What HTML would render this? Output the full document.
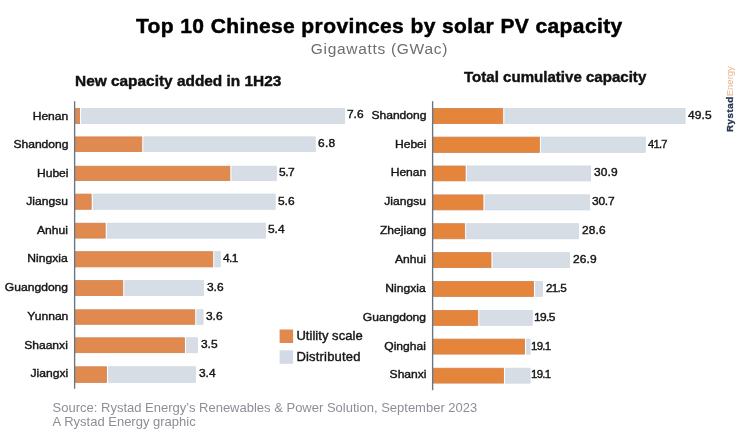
<!DOCTYPE html>
<html lang="en">
<head>
<meta charset="utf-8">
<title>Top 10 Chinese provinces by solar PV capacity</title>
<style>
html,body{margin:0;padding:0;background:#fff}
body{width:740px;height:439px;position:relative;overflow:hidden;font-family:"Liberation Sans",sans-serif}
svg{position:absolute;left:0;top:0}
.t{position:absolute;white-space:nowrap;margin:0}
.c{left:0;width:740px;text-align:center}
h1.t{top:12.72px;font-size:21px;line-height:25px;font-weight:700;color:#000;letter-spacing:.4px;text-indent:18.6px;-webkit-text-stroke:.5px #000}
.sub{top:38.53px;font-size:15.5px;line-height:19px;color:#6e6e70;letter-spacing:.7px;text-indent:18.8px}
h2.t{font-size:14.2px;line-height:17px;font-weight:700;color:#111;-webkit-text-stroke:.4px #111;transform-origin:left center}
.lab,.val,.leg{color:#151515;-webkit-text-stroke:.4px #151515}
.lab,.val{font-size:11.3px;line-height:14px}
.lab{transform:scaleX(1.07);transform-origin:right center}
.val{transform:scaleX(1.06);transform-origin:left center}
.leg{left:296.4px;font-size:13px;line-height:16px}
.src{left:52.6px;font-size:13px;line-height:16px;color:#8c8f97}
.wm{left:724.3px;top:131.7px;font-size:10px;line-height:12px;transform-origin:0 0;transform:rotate(-90deg)}
.wm b{color:#27364f;font-weight:700;font-size:9.7px;letter-spacing:.58px;-webkit-text-stroke:.3px #27364f}
.wm span{color:#e9b58e;font-size:9.6px;letter-spacing:-.08px}
</style>
</head>
<body>
<svg width="740" height="439" viewBox="0 0 740 439" aria-hidden="true">
<rect x="81.60" y="108.30" width="263.00" height="15.40" fill="#d6dde5" stroke="#cdd5df" stroke-width="0.6"/>
<rect x="75.40" y="108.40" width="4.20" height="15.20" fill="#e08a50" stroke="#cf8250" stroke-width="0.8"/>
<rect x="143.80" y="136.80" width="171.50" height="14.90" fill="#d6dde5" stroke="#cdd5df" stroke-width="0.6"/>
<rect x="75.40" y="136.90" width="66.40" height="14.70" fill="#e08a50" stroke="#cf8250" stroke-width="0.8"/>
<rect x="231.90" y="166.10" width="44.50" height="14.60" fill="#d6dde5" stroke="#cdd5df" stroke-width="0.6"/>
<rect x="75.40" y="166.20" width="154.50" height="14.40" fill="#e08a50" stroke="#cf8250" stroke-width="0.8"/>
<rect x="93.20" y="194.00" width="182.00" height="15.40" fill="#d6dde5" stroke="#cdd5df" stroke-width="0.6"/>
<rect x="75.40" y="194.10" width="15.80" height="15.20" fill="#e08a50" stroke="#cf8250" stroke-width="0.8"/>
<rect x="107.20" y="223.10" width="158.30" height="15.10" fill="#d6dde5" stroke="#cdd5df" stroke-width="0.6"/>
<rect x="75.40" y="223.20" width="29.80" height="14.90" fill="#e08a50" stroke="#cf8250" stroke-width="0.8"/>
<rect x="214.80" y="251.60" width="5.50" height="15.40" fill="#d6dde5" stroke="#cdd5df" stroke-width="0.6"/>
<rect x="75.40" y="251.70" width="137.40" height="15.20" fill="#e08a50" stroke="#cf8250" stroke-width="0.8"/>
<rect x="124.80" y="280.50" width="78.70" height="15.20" fill="#d6dde5" stroke="#cdd5df" stroke-width="0.6"/>
<rect x="75.40" y="280.60" width="47.40" height="15.00" fill="#e08a50" stroke="#cf8250" stroke-width="0.8"/>
<rect x="196.80" y="309.70" width="6.30" height="14.70" fill="#d6dde5" stroke="#cdd5df" stroke-width="0.6"/>
<rect x="75.40" y="309.80" width="119.40" height="14.50" fill="#e08a50" stroke="#cf8250" stroke-width="0.8"/>
<rect x="186.40" y="337.70" width="11.20" height="15.10" fill="#d6dde5" stroke="#cdd5df" stroke-width="0.6"/>
<rect x="75.40" y="337.80" width="109.00" height="14.90" fill="#e08a50" stroke="#cf8250" stroke-width="0.8"/>
<rect x="108.50" y="366.70" width="87.10" height="15.80" fill="#d6dde5" stroke="#cdd5df" stroke-width="0.6"/>
<rect x="75.40" y="366.80" width="31.10" height="15.60" fill="#e08a50" stroke="#cf8250" stroke-width="0.8"/>
<rect x="73.95" y="101.2" width="1.35" height="287.50" fill="#6b7481"/>
<rect x="504.80" y="108.30" width="180.30" height="15.40" fill="#d6dde5" stroke="#cdd5df" stroke-width="0.6"/>
<rect x="433.40" y="108.40" width="69.40" height="15.20" fill="#e5853c" stroke="#cf8250" stroke-width="0.8"/>
<rect x="541.40" y="137.00" width="104.00" height="15.50" fill="#d6dde5" stroke="#cdd5df" stroke-width="0.6"/>
<rect x="433.40" y="137.10" width="106.00" height="15.30" fill="#e5853c" stroke="#cf8250" stroke-width="0.8"/>
<rect x="467.20" y="165.90" width="123.50" height="15.10" fill="#d6dde5" stroke="#cdd5df" stroke-width="0.6"/>
<rect x="433.40" y="166.00" width="31.80" height="14.90" fill="#e5853c" stroke="#cf8250" stroke-width="0.8"/>
<rect x="485.00" y="194.80" width="104.70" height="15.20" fill="#d6dde5" stroke="#cdd5df" stroke-width="0.6"/>
<rect x="433.40" y="194.90" width="49.60" height="15.00" fill="#e5853c" stroke="#cf8250" stroke-width="0.8"/>
<rect x="466.70" y="223.60" width="111.90" height="15.30" fill="#d6dde5" stroke="#cdd5df" stroke-width="0.6"/>
<rect x="433.40" y="223.70" width="31.30" height="15.10" fill="#e5853c" stroke="#cf8250" stroke-width="0.8"/>
<rect x="493.00" y="252.50" width="76.60" height="15.20" fill="#d6dde5" stroke="#cdd5df" stroke-width="0.6"/>
<rect x="433.40" y="252.60" width="57.60" height="15.00" fill="#e5853c" stroke="#cf8250" stroke-width="0.8"/>
<rect x="535.60" y="281.30" width="7.00" height="15.20" fill="#d6dde5" stroke="#cdd5df" stroke-width="0.6"/>
<rect x="433.40" y="281.40" width="100.20" height="15.00" fill="#e5853c" stroke="#cf8250" stroke-width="0.8"/>
<rect x="479.80" y="310.30" width="52.50" height="15.20" fill="#d6dde5" stroke="#cdd5df" stroke-width="0.6"/>
<rect x="433.40" y="310.40" width="44.40" height="15.00" fill="#e5853c" stroke="#cf8250" stroke-width="0.8"/>
<rect x="526.60" y="339.00" width="3.50" height="15.20" fill="#d6dde5" stroke="#cdd5df" stroke-width="0.6"/>
<rect x="433.40" y="339.10" width="91.20" height="15.00" fill="#e5853c" stroke="#cf8250" stroke-width="0.8"/>
<rect x="505.60" y="368.10" width="24.50" height="15.10" fill="#d6dde5" stroke="#cdd5df" stroke-width="0.6"/>
<rect x="433.40" y="368.20" width="70.20" height="14.90" fill="#e5853c" stroke="#cf8250" stroke-width="0.8"/>
<rect x="431.95" y="101.2" width="1.35" height="289.00" fill="#6b7481"/>
<rect x="279.6" y="329.5" width="13.5" height="13.5" fill="#e08a50"/>
<rect x="279.6" y="350.3" width="13.5" height="13.5" fill="#d2dae5"/>
</svg>
<h1 class="t c" id="title">Top 10 Chinese provinces by solar PV capacity</h1>
<div class="t c sub" id="sub">Gigawatts (GWac)</div>
<h2 class="t" id="pt1" style="left:75.4px;top:73.18px;transform:scaleX(1.086)">New capacity added in 1H23</h2>
<h2 class="t" id="pt2" style="left:463.8px;top:68.98px;transform:scaleX(1.062)">Total cumulative capacity</h2>
<div class="t lab" id="Ll0" style="top:108.78px;right:671.60px">Henan</div>
<div class="t val" id="Lv0" style="top:107.48px;left:346.80px;letter-spacing:-0.05px">7.6</div>
<div class="t lab" id="Ll1" style="top:137.03px;right:671.80px">Shandong</div>
<div class="t val" id="Lv1" style="top:136.48px;left:318.00px;letter-spacing:0.3px">6.8</div>
<div class="t lab" id="Ll2" style="top:165.63px;right:671.90px">Hubei</div>
<div class="t val" id="Lv2" style="top:165.03px;left:279.00px;letter-spacing:-0.48px">5.7</div>
<div class="t lab" id="Ll3" style="top:193.78px;right:672.50px">Jiangsu</div>
<div class="t val" id="Lv3" style="top:193.78px;left:278.40px;letter-spacing:-0.05px">5.6</div>
<div class="t lab" id="Ll4" style="top:222.58px;right:672.20px">Anhui</div>
<div class="t val" id="Lv4" style="top:221.98px;left:267.70px;letter-spacing:-0.05px">5.4</div>
<div class="t lab" id="Ll5" style="top:251.38px;right:672.00px">Ningxia</div>
<div class="t val" id="Lv5" style="top:251.08px;left:223.10px;letter-spacing:-0.57px">4.1</div>
<div class="t lab" id="Ll6" style="top:280.08px;right:672.20px">Guangdong</div>
<div class="t val" id="Lv6" style="top:279.88px;left:206.70px;letter-spacing:-0.05px">3.6</div>
<div class="t lab" id="Ll7" style="top:308.58px;right:671.40px">Yunnan</div>
<div class="t val" id="Lv7" style="top:308.78px;left:206.20px;letter-spacing:-0.05px">3.6</div>
<div class="t lab" id="Ll8" style="top:338.03px;right:672.20px">Shaanxi</div>
<div class="t val" id="Lv8" style="top:337.43px;left:200.80px;letter-spacing:-0.05px">3.5</div>
<div class="t lab" id="Ll9" style="top:366.18px;right:671.50px">Jiangxi</div>
<div class="t val" id="Lv9" style="top:366.18px;left:198.80px;letter-spacing:-0.05px">3.4</div>
<div class="t lab" id="Rl0" style="top:108.48px;right:313.00px">Shandong</div>
<div class="t val" id="Rv0" style="top:107.98px;left:688.10px;letter-spacing:0.1px">49.5</div>
<div class="t lab" id="Rl1" style="top:137.38px;right:313.00px">Hebei</div>
<div class="t val" id="Rv1" style="top:136.78px;left:648.40px;letter-spacing:-0.7px;transform:scaleX(0.98)">41.7</div>
<div class="t lab" id="Rl2" style="top:165.38px;right:314.00px">Henan</div>
<div class="t val" id="Rv2" style="top:165.48px;left:593.80px;letter-spacing:0.1px">30.9</div>
<div class="t lab" id="Rl3" style="top:194.18px;right:314.00px">Jiangsu</div>
<div class="t val" id="Rv3" style="top:194.18px;left:592.40px;letter-spacing:-0.23px">30.7</div>
<div class="t lab" id="Rl4" style="top:223.03px;right:314.00px">Zhejiang</div>
<div class="t val" id="Rv4" style="top:222.93px;left:581.80px;letter-spacing:0.1px">28.6</div>
<div class="t lab" id="Rl5" style="top:251.68px;right:314.00px">Anhui</div>
<div class="t val" id="Rv5" style="top:252.28px;left:573.00px;letter-spacing:0.1px">26.9</div>
<div class="t lab" id="Rl6" style="top:280.68px;right:314.00px">Ningxia</div>
<div class="t val" id="Rv6" style="top:280.98px;left:545.70px;letter-spacing:-0.65px;transform:scaleX(1.03)">21.5</div>
<div class="t lab" id="Rl7" style="top:309.68px;right:314.10px">Guangdong</div>
<div class="t val" id="Rv7" style="top:309.88px;left:534.00px;letter-spacing:-0.63px">19.5</div>
<div class="t lab" id="Rl8" style="top:338.88px;right:313.90px">Qinghai</div>
<div class="t val" id="Rv8" style="top:338.78px;left:531.20px;letter-spacing:-0.7px;transform:scaleX(1.01)">19.1</div>
<div class="t lab" id="Rl9" style="top:367.33px;right:313.30px">Shanxi</div>
<div class="t val" id="Rv9" style="top:367.23px;left:531.20px;letter-spacing:-0.7px;transform:scaleX(1.01)">19.1</div>
<div class="t leg" id="lg1" style="top:327.60px;letter-spacing:.04px">Utility scale</div>
<div class="t leg" id="lg2" style="top:348.60px;letter-spacing:.19px">Distributed</div>
<div class="t src" id="f1" style="top:400.00px">Source: Rystad Energy’s Renewables &amp; Power Solution, September 2023</div>
<div class="t src" id="f2" style="top:414.20px">A Rystad Energy graphic</div>
<div class="t wm" id="wm"><b>Rystad</b><span>Energy</span></div>
</body>
</html>
